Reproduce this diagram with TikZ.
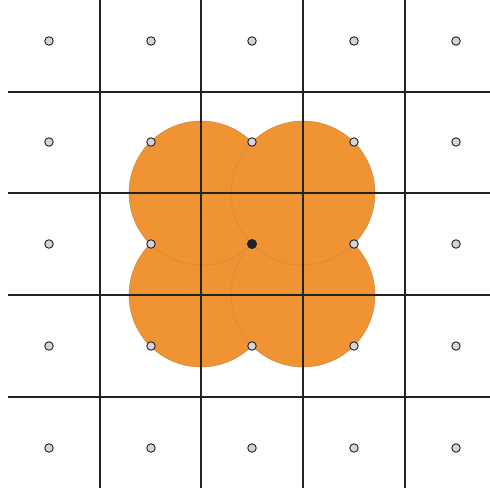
\documentclass[tikz,border=0pt]{standalone}
\usetikzlibrary{calc}
\definecolor{disc}{HTML}{F09433}
\definecolor{discedge}{HTML}{C9884A}
\definecolor{gridc}{HTML}{222222}
\definecolor{ptfill}{HTML}{D4D4DA}
\tikzset{
  gridline/.style={draw=gridc,line width=1.8pt},
  discstyle/.style={fill=disc,draw=discedge,line width=0.5pt},
  sample/.style={circle,fill=ptfill,draw=gridc,line width=0.9pt,minimum size=8.5pt,inner sep=0pt},
  query/.style={circle,fill=gridc,draw=gridc,line width=0.9pt,minimum size=9pt,inner sep=0pt}
}
\begin{document}
\begin{tikzpicture}[x=1pt,y=-1pt]
\useasboundingbox (0,0) rectangle (490,493);
% discs (bottom first, then top)
\foreach \cx/\cy in {201/295,303/295,201/193,303/193}
  \filldraw[discstyle] (\cx,\cy) circle (72);
% grid
\foreach \gy in {92,193,295,397}
  \draw[gridline] (8,\gy) -- (490,\gy);
\foreach \gx in {100,201,303,405}
  \draw[gridline] (\gx,0) -- (\gx,488);
% sample points
\foreach \i/\px in {1/49,2/151,3/252,4/354,5/456}
  \foreach \j/\py in {1/41,2/142,3/244,4/346,5/448}
    \node[sample] (p\i\j) at (\px,\py) {};
\node[query] (q) at (252,244) {};
\end{tikzpicture}
\end{document}
